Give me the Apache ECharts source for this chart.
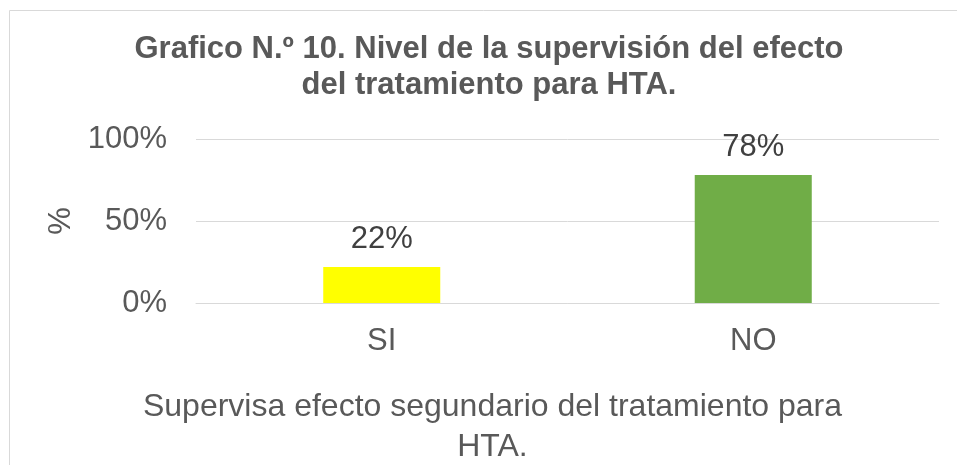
<!DOCTYPE html>
<html lang="es">
<head>
<meta charset="utf-8">
<title>Grafico N.º 10</title>
<script src="https://cdn.jsdelivr.net/npm/echarts@6/dist/echarts.min.js"></script>
<style>
  html, body { margin: 0; padding: 0; background: #fff; overflow: hidden; }
  #main { width: 957px; height: 465px; }
</style>
</head>
<body>
<div id="main"></div>
<script type="text/javascript">
    // datos del grafico
    var categorias = ['SI', 'NO'];
    var porcentajes = [22, 78];
    var colores = ['#FFFF00', '#70AD47'];
    var ticksY = [0, 50, 100];

    var myChart = echarts.init(document.getElementById('main'));

    var barras = [];
    for (var i = 0; i < porcentajes.length; i++) {
        barras.push({ value: porcentajes[i], itemStyle: { color: colores[i] } });
    }

    var option = {
        animation: false,
        textStyle: { fontFamily: 'Liberation Sans, Arial, sans-serif' },
        title: {
            text: 'Grafico N.º 10. Nivel de la supervisión del efecto\ndel tratamiento para HTA.',
            left: 484,
            textAlign: 'center',
            top: 26,
            textStyle: {
                fontSize: 31,
                fontWeight: 'bold',
                color: '#595959',
                lineHeight: 36
            }
        },
        graphic: [{
            type: 'rect',
            shape: { x: 9.5, y: 10.5, width: 1000, height: 1000 },
            style: { fill: 'none', stroke: '#d9d9d9', lineWidth: 1 },
            silent: true
        }],
        grid: { left: 196, right: 18, top: 139, bottom: 162, outerBoundsMode: 'none' },
        xAxis: {
            type: 'category',
            data: categorias,
            axisTick: { show: false },
            axisLine: { lineStyle: { color: '#d9d9d9', width: 1 } },
            axisLabel: { fontSize: 31, color: '#595959', margin: 23 },
            name: 'Supervisa efecto segundario del tratamiento para\nHTA.',
            nameLocation: 'middle',
            nameGap: 84,
            nameTextStyle: { fontSize: 32, color: '#595959', lineHeight: 40, padding: [0, 150, 0, 0] }
        },
        yAxis: {
            type: 'value',
            min: ticksY[0],
            max: ticksY[ticksY.length - 1],
            interval: ticksY[1] - ticksY[0],
            axisLabel: { fontSize: 31, color: '#595959', margin: 29, formatter: '{value}%' },
            splitLine: { lineStyle: { color: '#d9d9d9', width: 1 } },
            name: '%',
            nameLocation: 'middle',
            nameRotate: 90,
            nameGap: 116,
            nameTextStyle: { fontSize: 31, color: '#595959' }
        },
        series: [{
            type: 'bar',
            data: barras,
            barWidth: '31.5%',
            label: {
                show: true,
                position: 'top',
                distance: 12,
                fontSize: 31,
                color: '#404040',
                formatter: '{c}%'
            }
        }]
    };

    myChart.setOption(option);
</script>
</body>
</html>
